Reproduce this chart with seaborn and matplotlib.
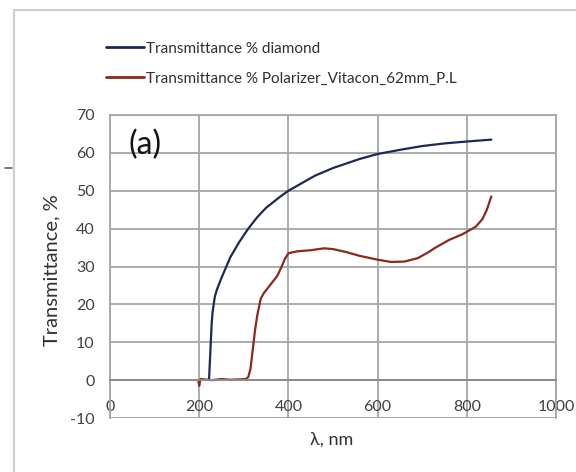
import numpy as np
import pandas as pd
import matplotlib
matplotlib.use("Agg")
import matplotlib.pyplot as plt
from matplotlib.lines import Line2D
import seaborn as sns

# Transmittance spectra (wavelength in nm, transmittance in %)
diamond_nm = [222, 224, 226, 228, 230, 235, 240, 250, 270, 290, 310, 330, 350,
              380, 400, 430, 460, 500, 530, 560, 600, 650, 700, 750, 800, 855]
diamond_t = [0.0, 5.0, 10.0, 15.0, 18.0, 22.0, 24.0, 27.0, 32.5, 36.5, 40.0,
             43.0, 45.5, 48.3, 50.0, 52.0, 54.0, 56.0, 57.2, 58.4, 59.7, 60.8,
             61.8, 62.5, 63.0, 63.5]

polarizer_nm = [198, 200, 203, 210, 230, 250, 270, 290, 305, 310, 315, 320, 325,
                330, 338, 345, 355, 365, 375, 385, 392, 400, 420, 450, 480, 500,
                530, 560, 600, 630, 660, 690, 710, 730, 760, 790, 820, 835,
                845, 855]
polarizer_t = [0.0, -1.5, 0.3, 0.2, 0.0, 0.3, 0.1, 0.2, 0.3, 0.8, 3.0, 8.0,
               13.0, 17.0, 21.5, 23.0, 24.5, 26.0, 27.5, 30.0, 32.0, 33.5, 34.0,
               34.3, 34.8, 34.6, 33.8, 32.8, 31.8, 31.2, 31.3, 32.2, 33.5, 35.0,
               37.0, 38.5, 40.5, 42.5, 45.0, 48.5]

series_names = ["Transmittance % diamond",
                "Transmittance % Polarizer_Vitacon_62mm_P.L"]
series_colors = ["#1d2858", "#8a2a1c"]

x_ticks = [0, 200, 400, 600, 800, 1000]
y_ticks = [-10, 0, 10, 20, 30, 40, 50, 60, 70]

df = pd.concat([
    pd.DataFrame({"wavelength": diamond_nm, "T": diamond_t, "series": series_names[0]}),
    pd.DataFrame({"wavelength": polarizer_nm, "T": polarizer_t, "series": series_names[1]}),
], ignore_index=True)

sns.set_theme(style="white")
plt.rcParams["font.family"] = ["Lato", "DejaVu Sans"]

W, H = 576, 472
fig = plt.figure(figsize=(W / 100, H / 100), dpi=100)
ax = fig.add_axes([110 / W, 1 - 418 / H, (556 - 110) / W, (418 - 115) / H])

sns.lineplot(data=df, x="wavelength", y="T", hue="series",
             palette=dict(zip(series_names, series_colors)),
             linewidth=1.6, sort=False, estimator=None, ax=ax, legend=False)

ax.set_xlim(0, 1000)
ax.set_ylim(-10, 70)
ax.set_xticks(x_ticks)
ax.set_yticks(y_ticks)
ax.set_xticklabels([str(v) for v in x_ticks])
ax.set_yticklabels([str(v) for v in y_ticks])

grid_col = "#a6a6a6"
ax.grid(True, color=grid_col, linewidth=1.3)
ax.set_axisbelow(True)
for s in ["left", "right", "top"]:
    ax.spines[s].set_color(grid_col)
    ax.spines[s].set_linewidth(1.3)
# horizontal axis crosses at zero
ax.spines["bottom"].set_position(("data", 0))
ax.spines["bottom"].set_color("#8c8c8c")
ax.spines["bottom"].set_linewidth(1.4)
ax.axhline(-10, color=grid_col, linewidth=1.3, zorder=0)

ax.tick_params(axis="x", length=0, pad=14, labelsize=11.5, labelcolor="#404040")
ax.tick_params(axis="y", length=0, pad=11, labelsize=11.5, labelcolor="#404040")

ax.set_xlabel("λ, nm", fontsize=13, color="#303030")
ax.xaxis.set_label_coords((332 - 110) / (556 - 110), -0.045)
ax.set_ylabel("Transmittance, %", fontsize=14.5, color="#303030")
ax.yaxis.set_label_coords(-0.112, 0.5 - (270 - 266.5) / 303)

ax.text(0.042, 0.95, "(a)", transform=ax.transAxes, fontsize=23,
        color="#111111", va="top", ha="left")

handles = [Line2D([0], [0], color=c, linewidth=2) for c in series_colors]
fig.legend(handles, series_names, loc="upper left",
           bbox_to_anchor=(92 / W, 1 - 28 / H), frameon=False,
           fontsize=11, handlelength=2.5, handletextpad=0.12,
           labelspacing=1.05, labelcolor="#303030")

# outer chart frame and small mark at left edge
frame_col = "#cfcfcf"
fig.add_artist(Line2D([14 / W, 14 / W], [0, 1 - 10 / H], color=frame_col,
                      linewidth=1.5, transform=fig.transFigure))
fig.add_artist(Line2D([14 / W, 1], [1 - 10 / H, 1 - 10 / H], color=frame_col,
                      linewidth=1.5, transform=fig.transFigure))
fig.add_artist(Line2D([5 / W, 12 / W], [1 - 168 / H, 1 - 168 / H], color="#707070",
                      linewidth=1.3, transform=fig.transFigure))

fig.savefig("out.png", dpi=100)
